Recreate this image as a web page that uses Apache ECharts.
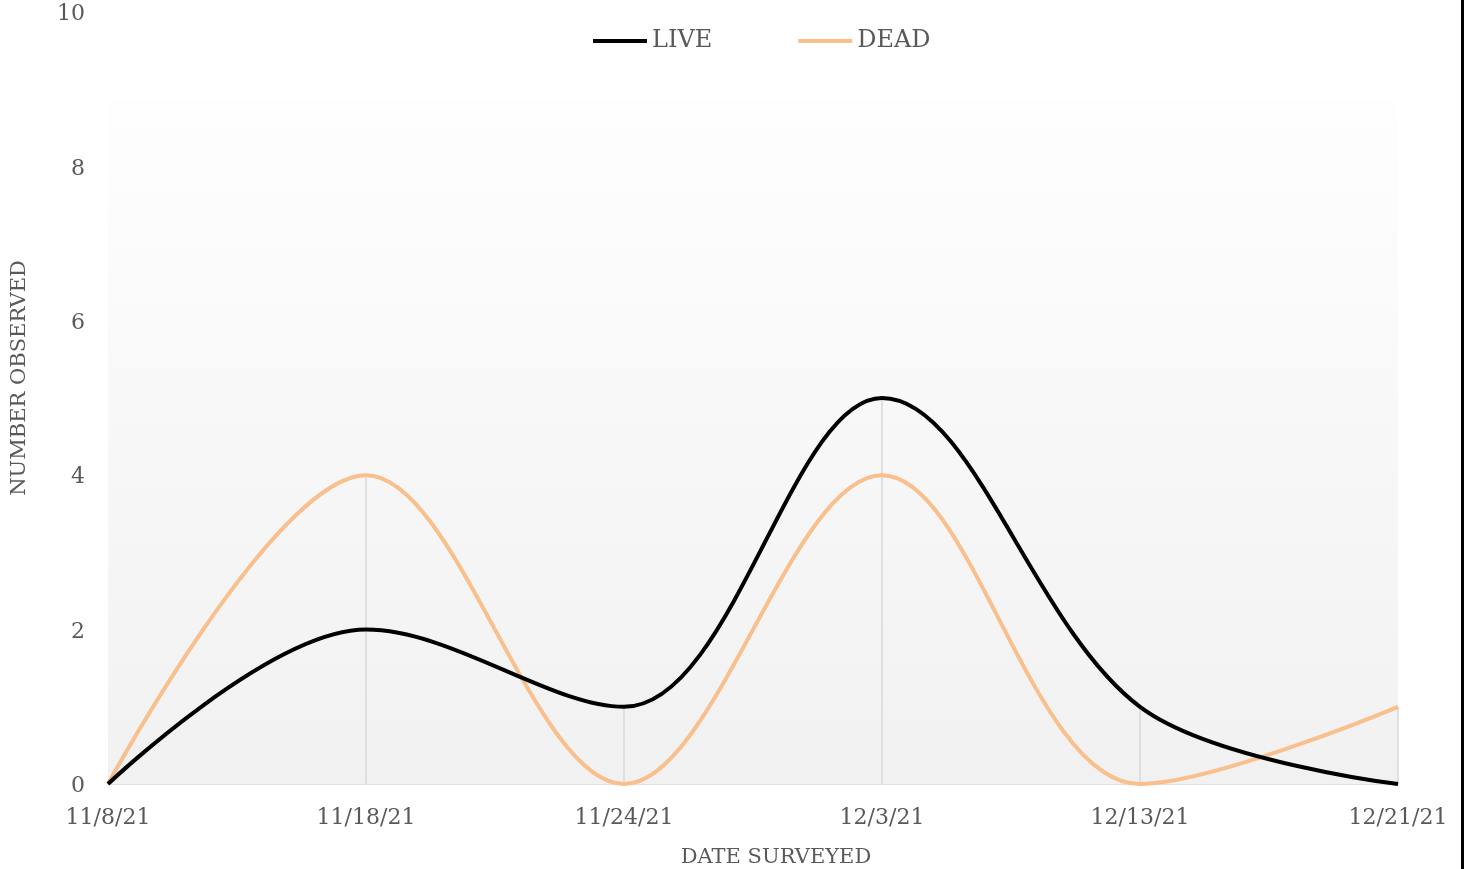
<!DOCTYPE html>
<html>
<head>
<meta charset="utf-8">
<script src="https://cdn.jsdelivr.net/npm/echarts@6/dist/echarts.min.js"></script>
<style>html,body{margin:0;padding:0;background:#fff}#c{width:1465px;height:869px}</style>
</head>
<body>
<div id="c"></div>
<script>
const categories = ['11/8/21', '11/18/21', '11/24/21', '12/3/21', '12/13/21', '12/21/21'];
const liveValues = [0, 2, 1, 5, 1, 0];
const deadValues = [0, 4, 0, 4, 0, 1];
const yTicks = { min: 0, max: 10, interval: 2 };
const seriesNames = ['LIVE', 'DEAD'];

const dropValues = categories.map((c, i) => Math.max(liveValues[i], deadValues[i]));
const FONT = 'DejaVu Serif';
const TXT = '#595959';

const chart = echarts.init(document.getElementById('c'), null, { renderer: 'canvas' });
chart.setOption({
  animation: false,
  backgroundColor: '#fff',
  textStyle: { fontFamily: FONT },
  grid: { left: 108, right: 67, top: 12, bottom: 85, containLabel: false },
  legend: {
    data: seriesNames,
    top: 24,
    left: 588,
    itemWidth: 54,
    itemHeight: 4,
    itemGap: 86,
    textStyle: { fontFamily: FONT, fontSize: 24, color: TXT },
    icon: 'path://M0,0 L54,0 L54,4 L0,4 Z'
  },
  xAxis: {
    type: 'category',
    data: categories,
    boundaryGap: false,
    axisLine: { lineStyle: { color: '#d9d9d9', width: 1.5 } },
    axisTick: { show: false },
    axisLabel: { fontFamily: FONT, fontSize: 22, color: TXT, margin: 23 },
    splitLine: { show: false }
  },
  yAxis: {
    type: 'value',
    min: yTicks.min, max: yTicks.max, interval: yTicks.interval,
    axisLine: { show: false },
    axisTick: { show: false },
    axisLabel: {
      fontFamily: FONT, fontSize: 22, color: TXT, margin: 23,
      formatter: '{a|{value}}',
      rich: { a: { fontFamily: FONT, fontSize: 22, color: TXT, padding: [5, 0, 0, 0] } }
    },
    splitLine: { show: false }
  },
  series: [
    {
      name: 'drop', type: 'bar', data: dropValues, barWidth: 1.5, silent: true,
      itemStyle: { color: '#d9d9d9' }, z: 1,
      markArea: {
        silent: true,
        itemStyle: {
          color: new echarts.graphic.LinearGradient(0, 0, 0, 1, [
            { offset: 0, color: '#fefefe' },
            { offset: 1, color: '#f1f1f1' }
          ])
        },
        data: [[{ xAxis: categories[0], yAxis: 0 }, { xAxis: categories[categories.length - 1], yAxis: 8.86 }]]
      }
    },
    {
      name: 'LIVE', type: 'line', data: liveValues, smooth: 0.35, showSymbol: false,
      lineStyle: { color: '#000000', width: 4 }, itemStyle: { color: '#000000' }, z: 3
    },
    {
      name: 'DEAD', type: 'line', data: deadValues, smooth: 0.35, showSymbol: false,
      lineStyle: { color: '#F9BF8D', width: 4 }, itemStyle: { color: '#F9BF8D' }, z: 2
    }
  ],
  graphic: [
    { type: 'text', x: 20, y: 378, rotation: Math.PI / 2,
      style: { text: 'NUMBER OBSERVED', fontFamily: FONT, fontSize: 21, fill: TXT, align: 'center', verticalAlign: 'middle' } },
    { type: 'text', x: 776, y: 858,
      style: { text: 'DATE SURVEYED', fontFamily: FONT, fontSize: 21, fill: TXT, align: 'center', verticalAlign: 'middle' } },
    { type: 'rect', shape: { x: 1461, y: 0, width: 3, height: 869 }, style: { fill: '#000' } }
  ]
});
</script>
</body>
</html>
